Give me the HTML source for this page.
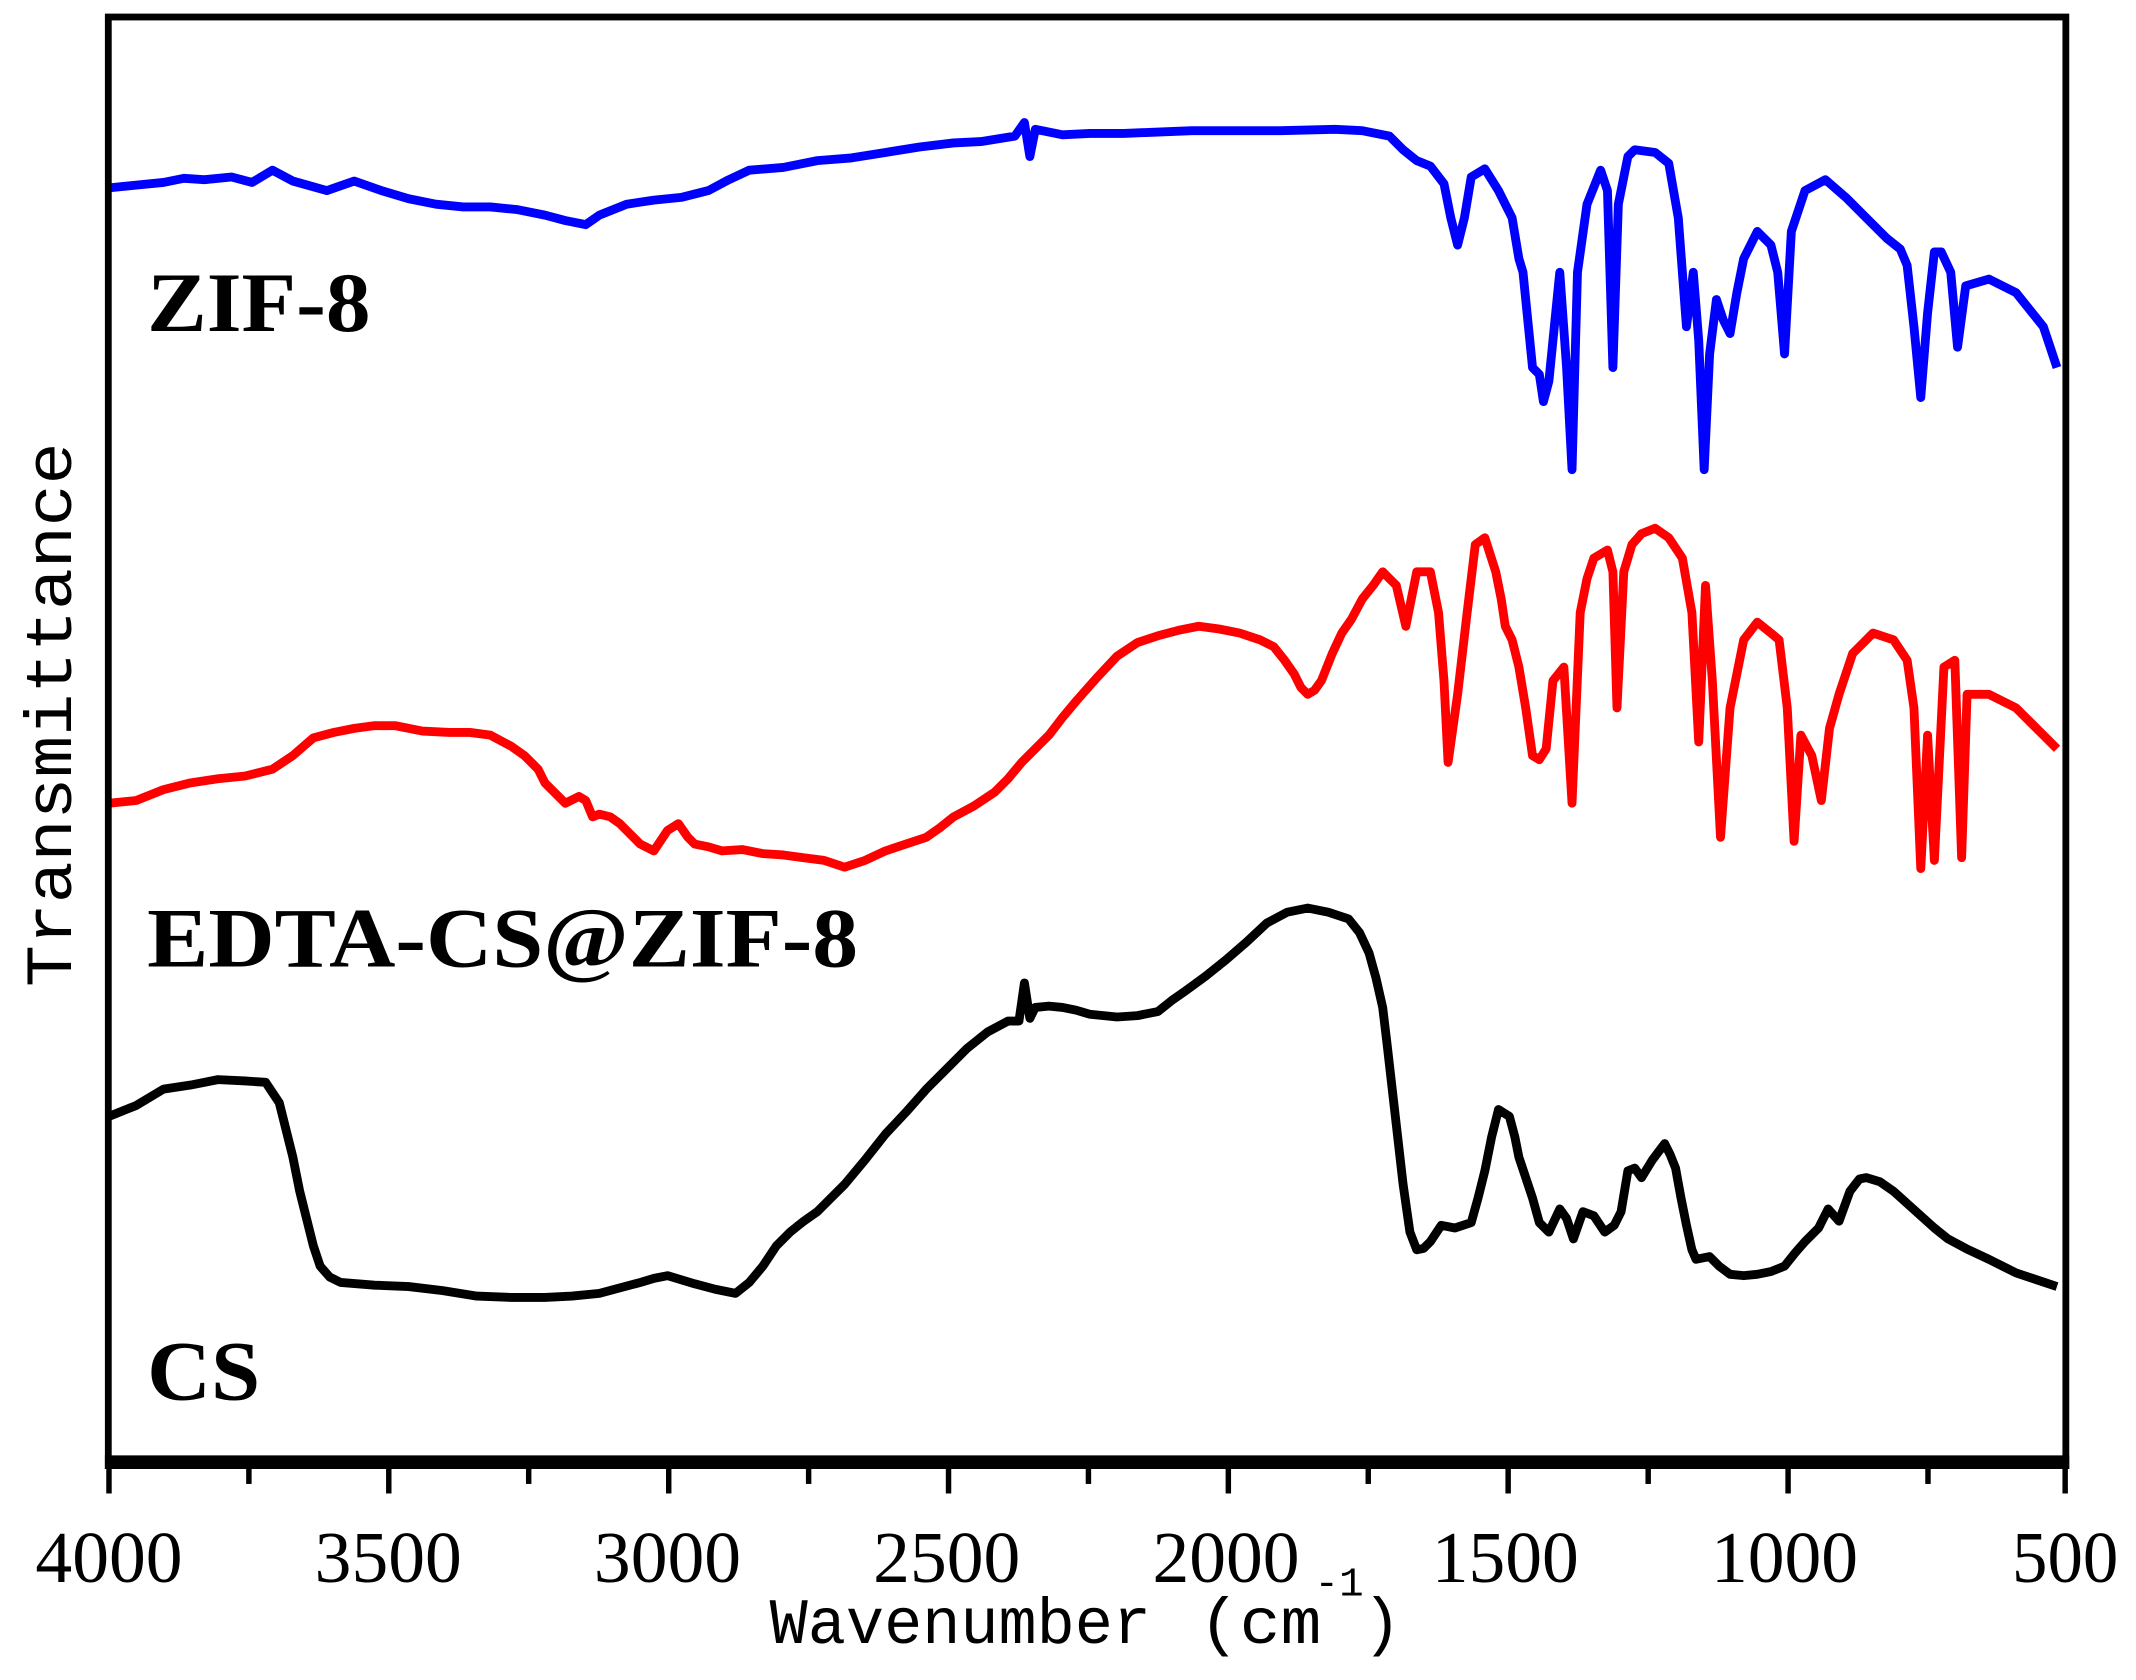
<!DOCTYPE html>
<html><head><style>html,body{margin:0;padding:0;background:#fff;}svg{display:block}</style></head>
<body>
<svg width="2136" height="1680" viewBox="0 0 1568 1234" preserveAspectRatio="none" xmlns="http://www.w3.org/2000/svg">
<rect x="0" y="0" width="1568" height="1234" fill="#fff"/>
<g fill="none" stroke-linejoin="round" stroke-width="6.5">
<polyline stroke="#0000ff" points="80,138 100,136 120,134 135,131 150,132 170,130 185,134 200,125 215,133 240,140 260,133 280,140 300,146 320,150 340,152 360,152 380,154 400,158 415,162 430,165 440,158 460,150 480,147 500,145 520,140 535,132 550,125 575,123 600,118 625,116 650,112 675,108 700,105 720,104 745,100 752,90 756,115 760,95 780,99 800,98 825,98 850,97 875,96 900,96 940,96 980,95 1000,96 1020,100 1030,110 1040,118 1050,122 1060,135 1065,160 1070,180 1075,160 1080,130 1090,124 1100,140 1105,150 1110,160 1115,190 1118,200 1122,240 1125,270 1130,275 1133,295 1137,280 1140,250 1145,200 1150,270 1154,345 1158,200 1165,150 1175,125 1180,140 1184,270 1188,150 1195,115 1200,110 1215,112 1225,120 1232,160 1238,240 1243,200 1247,250 1251,345 1255,260 1260,220 1265,235 1270,245 1275,215 1280,190 1290,170 1300,180 1305,200 1310,260 1315,170 1325,140 1340,132 1355,145 1370,160 1385,175 1395,183 1400,195 1405,240 1410,292 1415,230 1420,185 1425,185 1432,200 1437,255 1443,210 1460,205 1480,215 1500,240 1510,270"/>
<polyline stroke="#ff0000" points="80,590 100,588 120,580 140,575 160,572 180,570 200,565 215,555 230,542 245,538 260,535 275,533 290,533 310,537 330,538 345,538 360,540 375,548 385,555 395,565 400,575 408,583 415,590 425,585 430,588 435,600 440,598 448,600 455,605 465,615 470,620 480,625 490,610 498,605 505,615 510,620 520,622 530,625 545,624 560,627 575,628 590,630 605,632 620,637 635,632 650,625 665,620 680,615 690,608 700,600 715,592 730,582 740,572 750,560 760,550 770,540 780,527 790,515 805,498 820,482 835,472 850,467 865,463 880,460 895,462 910,465 925,470 935,475 943,485 950,495 955,505 960,510 965,507 970,500 978,480 985,465 992,455 1000,440 1008,430 1015,420 1020,425 1025,430 1032,460 1040,420 1050,420 1056,450 1060,500 1063,560 1070,510 1077,450 1083,400 1090,395 1098,420 1102,440 1105,460 1110,470 1115,490 1120,520 1125,555 1130,558 1135,550 1140,500 1148,490 1154,590 1160,450 1165,425 1170,410 1180,404 1184,420 1187,520 1192,420 1198,400 1205,392 1215,388 1225,395 1235,410 1242,450 1247,545 1252,430 1257,500 1263,615 1270,520 1280,470 1290,457 1300,465 1306,470 1312,520 1317,618 1322,540 1330,555 1337,588 1343,535 1350,510 1360,480 1375,465 1390,470 1400,485 1405,520 1410,638 1415,540 1420,632 1427,490 1435,485 1440,630 1444,510 1460,510 1480,520 1500,540 1510,550"/>
<polyline stroke="#000000" points="80,820 100,812 120,800 140,797 160,793 180,794 195,795 205,810 210,830 215,850 220,875 225,895 230,915 235,930 242,938 250,942 275,944 300,945 325,948 350,952 375,953 400,953 420,952 440,950 455,946 470,942 480,939 490,937 500,940 510,943 525,947 540,950 550,942 560,930 570,915 580,905 590,897 600,890 610,880 620,870 635,852 650,833 665,817 680,800 695,785 710,770 725,758 740,750 748,750 752,722 756,748 760,740 770,739 780,740 790,742 800,745 810,746 820,747 835,746 850,743 860,735 870,728 885,717 900,705 915,692 930,678 945,670 960,667 975,670 990,675 998,685 1005,700 1010,718 1015,740 1018,765 1022,800 1026,835 1030,870 1035,905 1040,918 1045,917 1050,912 1058,900 1068,902 1080,898 1085,880 1090,860 1095,835 1100,815 1108,820 1112,835 1115,850 1120,865 1125,880 1130,898 1137,905 1145,888 1150,895 1155,910 1162,890 1170,893 1178,905 1185,900 1190,890 1195,860 1200,858 1205,865 1213,852 1222,840 1226,848 1230,858 1234,880 1238,900 1242,918 1245,925 1255,923 1262,930 1270,936 1280,937 1290,936 1300,934 1310,930 1318,920 1325,912 1335,902 1342,888 1350,897 1358,875 1365,866 1370,865 1380,868 1390,875 1400,884 1410,893 1420,902 1430,910 1445,918 1460,925 1470,930 1480,935 1495,940 1510,945"/>
</g>
<rect x="79.5" y="12.5" width="1437" height="1064" fill="none" stroke="#000" stroke-width="5"/>
<line x1="77" y1="1074" x2="1519" y2="1074" stroke="#000" stroke-width="10"/>
<g stroke="#000" stroke-width="4">
<line x1="80" y1="1078" x2="80" y2="1097"/>
<line x1="182.7" y1="1078" x2="182.7" y2="1090"/>
<line x1="285.4" y1="1078" x2="285.4" y2="1097"/>
<line x1="388.1" y1="1078" x2="388.1" y2="1090"/>
<line x1="490.9" y1="1078" x2="490.9" y2="1097"/>
<line x1="593.6" y1="1078" x2="593.6" y2="1090"/>
<line x1="696.3" y1="1078" x2="696.3" y2="1097"/>
<line x1="799" y1="1078" x2="799" y2="1090"/>
<line x1="901.7" y1="1078" x2="901.7" y2="1097"/>
<line x1="1004.4" y1="1078" x2="1004.4" y2="1090"/>
<line x1="1107.1" y1="1078" x2="1107.1" y2="1097"/>
<line x1="1209.9" y1="1078" x2="1209.9" y2="1090"/>
<line x1="1312.6" y1="1078" x2="1312.6" y2="1097"/>
<line x1="1415.3" y1="1078" x2="1415.3" y2="1090"/>
<line x1="1516" y1="1078" x2="1516" y2="1097"/>
</g>
<g font-family="Liberation Serif, serif" font-size="54" text-anchor="middle" fill="#000">
<text x="80" y="1162" textLength="108" lengthAdjust="spacingAndGlyphs">4000</text>
<text x="285" y="1162" textLength="108" lengthAdjust="spacingAndGlyphs">3500</text>
<text x="490" y="1162" textLength="108" lengthAdjust="spacingAndGlyphs">3000</text>
<text x="695" y="1162" textLength="108" lengthAdjust="spacingAndGlyphs">2500</text>
<text x="900" y="1162" textLength="108" lengthAdjust="spacingAndGlyphs">2000</text>
<text x="1105" y="1162" textLength="108" lengthAdjust="spacingAndGlyphs">1500</text>
<text x="1310" y="1162" textLength="108" lengthAdjust="spacingAndGlyphs">1000</text>
<text x="1516" y="1162" textLength="78" lengthAdjust="spacingAndGlyphs">500</text>
</g>
<text x="565" y="1207" font-family="Liberation Mono, monospace" font-size="48" fill="#000" textLength="280" lengthAdjust="spacingAndGlyphs">Wavenumber</text>
<text x="880" y="1207" font-family="Liberation Mono, monospace" font-size="48" fill="#000" textLength="90" lengthAdjust="spacingAndGlyphs">(cm</text>
<text x="965" y="1172" font-family="Liberation Mono, monospace" font-size="30" fill="#000">-1</text>
<text x="1000" y="1207" font-family="Liberation Mono, monospace" font-size="48" fill="#000">)</text>
<text transform="translate(52,525) rotate(-90)" text-anchor="middle" font-family="Liberation Mono, monospace" font-size="48" fill="#000" textLength="400" lengthAdjust="spacingAndGlyphs">Transmittance</text>
<g font-family="Liberation Serif, serif" font-weight="bold" font-size="62" fill="#000">
<text x="108" y="243" textLength="164" lengthAdjust="spacingAndGlyphs">ZIF-8</text>
<text x="108" y="710" textLength="522" lengthAdjust="spacingAndGlyphs">EDTA-CS@ZIF-8</text>
<text x="108" y="1028" textLength="83" lengthAdjust="spacingAndGlyphs">CS</text>
</g>
</svg>
</body></html>
